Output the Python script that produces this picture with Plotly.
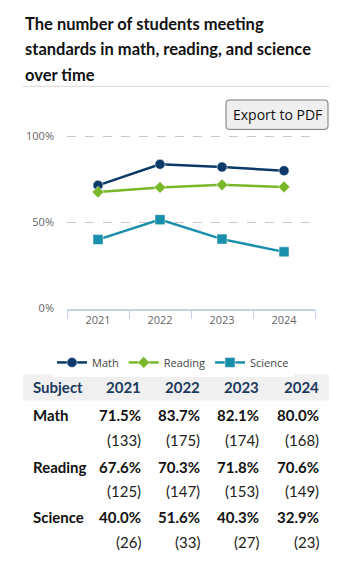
import plotly.graph_objects as go

W, H = 337, 578

years = ["2021", "2022", "2023", "2024"]
subjects = ["Math", "Reading", "Science"]
math_pct = [71.5, 83.7, 82.1, 80.0]
reading_pct = [67.6, 70.3, 71.8, 70.6]
science_pct = [40.0, 51.6, 40.3, 32.9]
math_n = [133, 175, 174, 168]
reading_n = [125, 147, 153, 149]
science_n = [26, 33, 27, 23]
title_lines = ["The number of students meeting",
               "standards in math, reading, and science",
               "over time"]
y_ticks = [0, 50, 100]
y_tick_text = ["0%", "50%", "100%"]

colors = {"Math": "#0b3a68", "Reading": "#79b929", "Science": "#1a8fab"}
symbols = {"Math": "circle", "Reading": "diamond", "Science": "square"}
msizes = {"Math": 10, "Reading": 9, "Science": 10}
pcts = {"Math": math_pct, "Reading": reading_pct, "Science": science_pct}
counts = {"Math": math_n, "Reading": reading_n, "Science": science_n}


def px(x):
    return x / W


def py(y):
    return 1 - y / H


fig = go.Figure()
for s in subjects:
    fig.add_trace(go.Scatter(
        x=years, y=pcts[s], name=s, mode="lines+markers",
        line=dict(color=colors[s], width=2.5),
        marker=dict(symbol=symbols[s], size=msizes[s], color=colors[s],
                    line=dict(width=0.5, color="white")),
    ))

ann = []
shapes = []
TF = "Lato"
# title
for i, t in enumerate(title_lines):
    ann.append(dict(text=f"<b>{t}</b>", x=px(23), y=py(19 + 26 * i), xref="paper", yref="paper",
                    xanchor="left", yanchor="middle", showarrow=False,
                    font=dict(family=TF, size=16.5, color="#111")))
shapes.append(dict(type="line", xref="paper", yref="paper", x0=px(23), x1=px(329),
                   y0=py(83), y1=py(83), line=dict(color="#d9d9d9", width=1)))

# button
r = 3
x0p, x1p, y0p, y1p = 226, 328, 97, 127
path = (f"M {px(x0p + r)},{py(y0p)} L {px(x1p - r)},{py(y0p)} Q {px(x1p)},{py(y0p)} {px(x1p)},{py(y0p + r)} "
        f"L {px(x1p)},{py(y1p - r)} Q {px(x1p)},{py(y1p)} {px(x1p - r)},{py(y1p)} "
        f"L {px(x0p + r)},{py(y1p)} Q {px(x0p)},{py(y1p)} {px(x0p)},{py(y1p - r)} "
        f"L {px(x0p)},{py(y0p + r)} Q {px(x0p)},{py(y0p)} {px(x0p + r)},{py(y0p)} Z")
shapes.append(dict(type="path", xref="paper", yref="paper", path=path,
                   fillcolor="#efefef", line=dict(color="#767676", width=1)))
ann.append(dict(text="Export to PDF", x=px(277), y=py(112), xref="paper", yref="paper",
                xanchor="center", yanchor="middle", showarrow=False,
                font=dict(family="Open Sans", size=14, color="#111")))

# table
shapes.append(dict(type="rect", xref="paper", yref="paper", x0=px(23), x1=px(329),
                   y0=py(404), y1=py(377), fillcolor="#f0f0f0", line=dict(width=0), layer="below"))
col_right = [143, 202, 261, 321]
hdr_color = "#1b3a5c"
ann.append(dict(text="<b>Subject</b>", x=px(31), y=py(390), xref="paper", yref="paper",
                xanchor="left", yanchor="middle", showarrow=False,
                font=dict(family=TF, size=15, color=hdr_color)))
for yr, xr in zip(years, col_right):
    ann.append(dict(text=f"<b>{yr}</b>", x=px(xr), y=py(390), xref="paper", yref="paper",
                    xanchor="right", yanchor="middle", showarrow=False,
                    font=dict(family=TF, size=15, color=hdr_color)))
row_y = {"Math": (419, 444), "Reading": (472, 496), "Science": (523, 548)}
for s in subjects:
    yp, yc = row_y[s]
    ann.append(dict(text=f"<b>{s}</b>", x=px(31), y=py(yp), xref="paper", yref="paper",
                    xanchor="left", yanchor="middle", showarrow=False,
                    font=dict(family=TF, size=15, color="#111")))
    for v, n, xr in zip(pcts[s], counts[s], col_right):
        ann.append(dict(text=f"<b>{v:.1f}%</b>", x=px(xr), y=py(yp), xref="paper", yref="paper",
                        xanchor="right", yanchor="middle", showarrow=False,
                        font=dict(family=TF, size=15, color="#111")))
        ann.append(dict(text=f"({n})", x=px(xr), y=py(yc), xref="paper", yref="paper",
                        xanchor="right", yanchor="middle", showarrow=False,
                        font=dict(family=TF, size=15, color="#222")))

fig.update_layout(
    width=W, height=H,
    margin=dict(l=0, r=0, t=0, b=0),
    paper_bgcolor="white", plot_bgcolor="white",
    xaxis=dict(domain=[px(67), px(315)], type="category", range=[-0.5, 3.5],
               showline=True, linecolor="#c3d3e3", linewidth=1.5,
               ticks="outside", tickson="boundaries", ticklen=9, tickcolor="#c3d3e3",
               showgrid=False, tickfont=dict(family="Open Sans", size=11, color="#666")),
    yaxis=dict(domain=[py(310), py(130.48)], range=[0, 102], tickmode="array",
               tickvals=y_ticks, ticktext=y_tick_text,
               showgrid=True, gridcolor="#c8c8c8", griddash="dash", gridwidth=1,
               zeroline=False, ticklabelstandoff=12,
               tickfont=dict(family="Open Sans", size=11, color="#666")),
    showlegend=True,
    legend=dict(orientation="h", x=px(173), xanchor="center", y=py(365), yanchor="middle",
                font=dict(family="Open Sans", size=11, color="#444"), itemwidth=30),
    annotations=ann, shapes=shapes,
)
fig.write_html("out.html")
